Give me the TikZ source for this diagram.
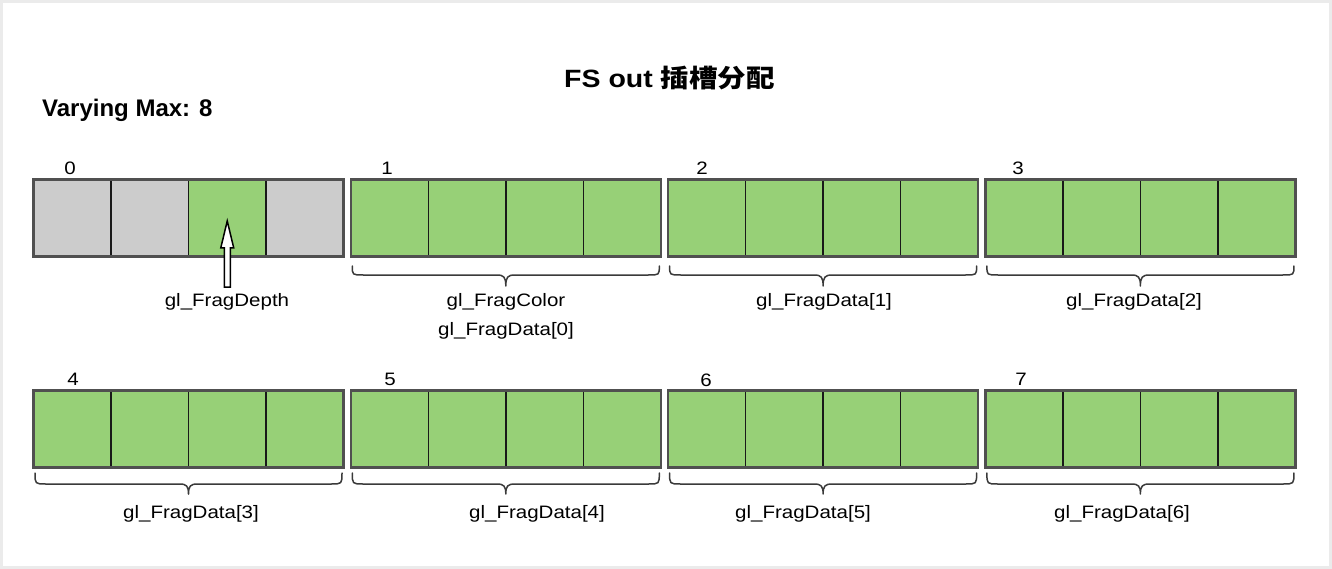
\documentclass[tikz,border=0pt]{standalone}
\usepackage{fontspec}
\setmainfont{Liberation Sans}
\newfontfamily\lab[FakeStretch=1.14]{Liberation Sans}
\newfontfamily\cjk[FakeStretch=1.14]{Noto Sans CJK SC}
\usetikzlibrary{calc}
\definecolor{cellgreen}{HTML}{97D077}
\definecolor{cellgray}{HTML}{CCCCCC}
\definecolor{blockedge}{HTML}{505050}
\definecolor{framegray}{HTML}{EBEBEB}
\definecolor{braceline}{HTML}{3A3A3A}
\begin{document}
\begin{tikzpicture}[x=1pt,y=-1pt,
  cellbox/.style={draw=black!90, line width=1.6pt, minimum width=77.5pt, minimum height=77pt,
    inner sep=0pt, outer sep=0pt, anchor=north west},
  greencell/.style={cellbox, fill=cellgreen},
  graycell/.style={cellbox, fill=cellgray},
  blockbox/.style={draw=blockedge, line width=2.2pt, minimum width=310pt, minimum height=77pt,
    inner sep=0pt, outer sep=0pt, anchor=north west},
  slotnum/.style={font=\lab\fontsize{18}{22}\selectfont, inner sep=0pt, anchor=base},
  labeltext/.style={font=\lab\fontsize{18}{22}\selectfont, inner sep=0pt, anchor=base},
  bracepath/.style={draw=braceline, line width=1.5pt, line cap=round, line join=round},
  hollowarrow/.style={draw=black, fill=white, line width=1.5pt, line join=miter},
]
\useasboundingbox (0,0) rectangle (1332,569);
\fill[white] (0,0) rectangle (1332,569);
\draw[framegray, line width=3pt] (1.5,1.5) rectangle (1330,567.5);

% title
\node[inner sep=0pt, anchor=base] (title) at (669.5,87.7)
  {\fontsize{25}{30}\selectfont{\lab\bfseries FS out }{\cjk\bfseries 插槽分配}};
\node[inner sep=0pt, anchor=base west, font=\bfseries\fontsize{24}{28}\selectfont] (vmax) at (42,116.7) {Varying Max: 8};

% blocks
\foreach \r/\ys in {0/179.5,1/390.5}{
  \foreach \b/\xs in {0/33.5,1/350.8,2/668.1,3/985.4}{
    \pgfmathtruncatemacro{\n}{4*\r+\b}
    \foreach \i in {0,1,2,3}{
      \ifnum\n=0
        \ifnum\i=2
          \node[greencell] (c\n-\i) at (\xs+77.5*\i,\ys) {};
        \else
          \node[graycell] (c\n-\i) at (\xs+77.5*\i,\ys) {};
        \fi
      \else
        \node[greencell] (c\n-\i) at (\xs+77.5*\i,\ys) {};
      \fi
    }
    \node[blockbox] (blk\n) at (\xs,\ys) {};
  }
}

% slot numbers
\node[slotnum] (n0) at (70,174.5) {0};
\node[slotnum] (n1) at (387,175) {1};
\node[slotnum] (n2) at (702,175) {2};
\node[slotnum] (n3) at (1018,175) {3};
\node[slotnum] (n4) at (73,385) {4};
\node[slotnum] (n5) at (390,385) {5};
\node[slotnum] (n6) at (706,386) {6};
\node[slotnum] (n7) at (1021,385) {7};

% braces
\foreach \n/\xs/\yt/\yl/\yp in {1/350.8/266/275/286, 2/668.1/266/275/286, 3/985.4/266/275/286,
  4/33.5/473/484/494, 5/350.8/473/484/494, 6/668.1/473/484/494, 7/985.4/473/484/494}{
  \pgfmathsetmacro{\xa}{\xs+1.5}
  \pgfmathsetmacro{\xb}{\xs+308.5}
  \pgfmathsetmacro{\xm}{\xs+155}
  \draw[bracepath] (\xa,\yt) .. controls (\xa,\yl) .. (\xa+11,\yl) -- (\xm-9,\yl)
     .. controls (\xm-2,\yl) and (\xm,\yl+2) .. (\xm,\yp)
     .. controls (\xm,\yl+2) and (\xm+2,\yl) .. (\xm+9,\yl) -- (\xb-11,\yl)
     .. controls (\xb,\yl) .. (\xb,\yt);
}

% labels
\node[labeltext] (fd) at (227,306.7) {gl\_FragDepth};
\node[labeltext] (l1a) at (506,306.7) {gl\_FragColor};
\node[labeltext] (l1b) at (506,335) {gl\_FragData[0]};
\node[labeltext] (l2) at (824,306.7) {gl\_FragData[1]};
\node[labeltext] (l3) at (1134,306.7) {gl\_FragData[2]};
\node[labeltext] (l4) at (191,518.5) {gl\_FragData[3]};
\node[labeltext] (l5) at (537,518.5) {gl\_FragData[4]};
\node[labeltext] (l6) at (803,518.5) {gl\_FragData[5]};
\node[labeltext] (l7) at (1122,518.5) {gl\_FragData[6]};

% hollow arrow from gl_FragDepth up to the depth cell
\path (c0-2.center) ++(0,3) coordinate (atip);
\draw[hollowarrow] (atip) -- ++(6.5,27) -- ++(-3.5,0) -- ++(0,39) -- ++(-6,0) -- ++(0,-39) -- ++(-3.5,0) -- cycle;
\end{tikzpicture}
\end{document}
